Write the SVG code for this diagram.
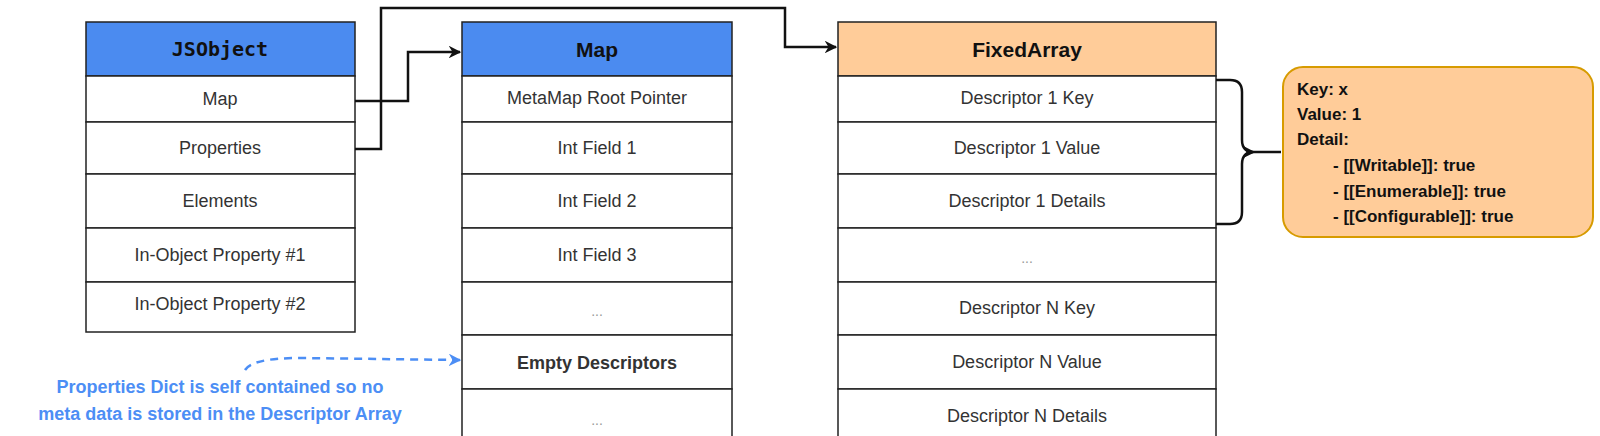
<svg xmlns="http://www.w3.org/2000/svg" width="1600" height="436" viewBox="0 0 1600 436">
<defs>
<style>
.c{fill:#fff;stroke:#222;stroke-width:1.5}
.hb{fill:#4B8BF0;stroke:#222;stroke-width:1.5}
.ho{fill:#FFCC99;stroke:#222;stroke-width:1.5}
.t{font-family:"Liberation Sans",Arial,sans-serif;font-size:18px;fill:#333;text-anchor:middle}
.h{font-family:"DejaVu Sans Mono","Liberation Mono",monospace;font-weight:bold;font-size:20px;fill:#111;text-anchor:middle}
.hs{font-family:"Liberation Sans",Arial,sans-serif;font-weight:bold;font-size:21px;fill:#111;text-anchor:middle}
.e{font-family:"Liberation Sans",Arial,sans-serif;font-size:14px;fill:#999;text-anchor:middle}
.k{font-family:"Liberation Sans",Arial,sans-serif;font-weight:bold;font-size:17px;fill:#111}
.bl{font-family:"Liberation Sans",Arial,sans-serif;font-weight:bold;font-size:18px;fill:#4C8EF5;text-anchor:middle}
.ln{fill:none;stroke:#111;stroke-width:2.5}
</style>
<marker id="a" viewBox="0 0 10 10" refX="9" refY="5" markerWidth="5" markerHeight="5" orient="auto"><path d="M0,0L10,5L0,10L3,5z" fill="#111"/></marker>
<marker id="ab" viewBox="0 0 10 10" refX="9" refY="5" markerWidth="5" markerHeight="5" orient="auto"><path d="M0,0L10,5L0,10L3,5z" fill="#4C8EF5"/></marker>
</defs>
<g id="jsobject">
<rect class="hb" x="86" y="22" width="269" height="54"/>
<text class="h" x="220" y="56">JSObject</text>
<rect class="c" x="86" y="76" width="269" height="46"/><text class="t" x="220" y="105">Map</text>
<rect class="c" x="86" y="122" width="269" height="52"/><text class="t" x="220" y="154">Properties</text>
<rect class="c" x="86" y="174" width="269" height="54"/><text class="t" x="220" y="207">Elements</text>
<rect class="c" x="86" y="228" width="269" height="54"/><text class="t" x="220" y="261">In-Object Property #1</text>
<rect class="c" x="86" y="282" width="269" height="50"/><text class="t" x="220" y="310">In-Object Property #2</text>
</g>
<g id="map">
<rect class="hb" x="462" y="22" width="270" height="54"/>
<text class="hs" x="597" y="57">Map</text>
<rect class="c" x="462" y="76" width="270" height="46"/><text class="t" x="597" y="104">MetaMap Root Pointer</text>
<rect class="c" x="462" y="122" width="270" height="52"/><text class="t" x="597" y="154">Int Field 1</text>
<rect class="c" x="462" y="174" width="270" height="54"/><text class="t" x="597" y="207">Int Field 2</text>
<rect class="c" x="462" y="228" width="270" height="54"/><text class="t" x="597" y="261">Int Field 3</text>
<rect class="c" x="462" y="282" width="270" height="53"/><text class="e" x="597" y="316">...</text>
<rect class="c" x="462" y="335" width="270" height="54"/><text class="t" x="597" y="369" font-weight="bold" fill="#111">Empty Descriptors</text>
<rect class="c" x="462" y="389" width="270" height="60"/><text class="e" x="597" y="425">...</text>
</g>
<g id="fixedarray">
<rect class="ho" x="838" y="22" width="378" height="54"/>
<text class="hs" x="1027" y="57">FixedArray</text>
<rect class="c" x="838" y="76" width="378" height="46"/><text class="t" x="1027" y="104">Descriptor 1 Key</text>
<rect class="c" x="838" y="122" width="378" height="52"/><text class="t" x="1027" y="154">Descriptor 1 Value</text>
<rect class="c" x="838" y="174" width="378" height="54"/><text class="t" x="1027" y="207">Descriptor 1 Details</text>
<rect class="c" x="838" y="228" width="378" height="54"/><text class="e" x="1027" y="263">...</text>
<rect class="c" x="838" y="282" width="378" height="53"/><text class="t" x="1027" y="314">Descriptor N Key</text>
<rect class="c" x="838" y="335" width="378" height="54"/><text class="t" x="1027" y="368">Descriptor N Value</text>
<rect class="c" x="838" y="389" width="378" height="60"/><text class="t" x="1027" y="422">Descriptor N Details</text>
</g>
<g id="detail">
<rect x="1283" y="67" width="310" height="170" rx="20" fill="#FFCC99" stroke="#D79B00" stroke-width="2"/>
<text class="k" x="1297" y="95">Key: x</text>
<text class="k" x="1297" y="120">Value: 1</text>
<text class="k" x="1297" y="145">Detail:</text>
<text class="k" x="1333" y="171">- [[Writable]]: true</text>
<text class="k" x="1333" y="197">- [[Enumerable]]: true</text>
<text class="k" x="1333" y="222">- [[Configurable]]: true</text>
</g>
<g id="note">
<text class="bl" x="220" y="393">Properties Dict is self contained so no</text>
<text class="bl" x="220" y="420">meta data is stored in the Descriptor Array</text>
</g>
<g id="connectors">
<path class="ln" d="M355,101H408V52H460" marker-end="url(#a)"/>
<path class="ln" d="M355,149H381V8H785V47H836" marker-end="url(#a)"/>
<path class="ln" d="M1216,80H1230Q1242,80 1242,92V140Q1242,152 1254,152H1281M1216,224H1230Q1242,224 1242,212V164Q1242,152 1254,152" marker-end="url(#a)"/>
<path d="M245,370Q252,358 300,358L460,360" fill="none" stroke="#4C8EF5" stroke-width="2.5" stroke-dasharray="8,6" marker-end="url(#ab)"/>
</g>
</svg>
